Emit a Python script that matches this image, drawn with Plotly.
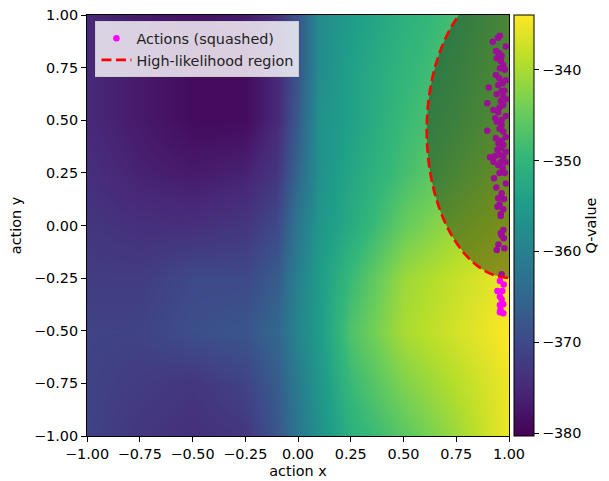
import plotly.graph_objects as go

# Q-value grid
grid_x = [-1.0, -0.75, -0.5, -0.25, -0.1, 0.0, 0.1, 0.25, 0.5, 0.75, 1.0]
grid_y = [-1.0, -0.75, -0.5, -0.25, 0.0, 0.25, 0.5, 0.75, 1.0]
q_values = [
    [-371, -373, -374, -373, -368, -362, -357, -351, -346, -341, -335],  # y=-1
    [-371, -372, -373, -371, -367, -361, -356, -349, -343, -339, -335],  # y=-0.75
    [-371, -371, -369, -368, -365, -359, -355, -347, -340, -337, -334],  # y=-0.5
    [-372, -372, -370, -370, -367, -360, -355, -349, -341, -338, -335],  # y=-0.25
    [-373, -374, -374, -373, -370, -362, -356, -352, -345, -341, -338],  # y=0
    [-374, -376, -377, -376, -373, -365, -357, -353, -348, -344, -340],  # y=0.25
    [-375, -377, -379, -379, -375, -367, -357, -354, -349, -346, -342],  # y=0.5
    [-375, -377, -379, -379, -375, -368, -358, -354, -350, -347, -343],  # y=0.75
    [-375, -377, -378, -377, -374, -368, -358, -355, -351, -348, -344],  # y=1
]

# Squashed actions
action_x = [0.957, 0.948, 0.923, 0.938, 0.954, 0.965, 0.942, 0.961, 0.973, 0.957,
            0.938, 0.954, 0.970, 0.904, 0.949, 0.965, 0.942, 0.973, 0.897, 0.961,
            0.973, 0.926, 0.949, 0.935, 0.965, 0.942, 0.965, 0.897, 0.973, 0.938,
            0.965, 0.973, 0.961, 0.910, 0.934, 0.957, 0.973, 0.926, 0.949, 0.970,
            0.929, 0.965, 0.949, 0.976, 0.945, 0.973, 0.961, 0.961, 0.973, 0.961,
            0.965, 0.942, 0.978, 0.965, 0.957, 0.945, 0.968, 0.957, 0.957, 0.973,
            0.957, 0.973, 0.985, 0.980, 0.985, 0.978, 0.985, 0.955, 0.985, 0.955,
            0.985, 0.950, 0.985, 0.945, 0.985, 0.960, 0.980, 0.955, 0.985, 0.940,
            0.955, 0.975, 0.950, 0.975, 0.965, 0.960]
action_y = [0.902, 0.892, 0.873, 0.829, 0.818, 0.807, 0.794, 0.781, 0.762, 0.747,
            0.715, 0.699, 0.676, 0.655, 0.667, 0.639, 0.623, 0.612, 0.581, 0.591,
            0.572, 0.549, 0.538, 0.509, 0.501, 0.493, 0.477, 0.450, 0.446, 0.414,
            0.403, 0.382, 0.367, 0.324, 0.330, 0.335, 0.324, 0.303, 0.287, 0.272,
            0.224, 0.153, 0.129, 0.126, 0.089, 0.077, 0.055, 0.045, -0.021, -0.037,
            -0.048, -0.116, -0.108, -0.232, -0.264, -0.311, -0.311, -0.338, -0.378, -0.374,
            -0.412, -0.417, 0.85, 0.74, 0.69, 0.64, 0.60, 0.56, 0.52, 0.46,
            0.42, 0.39, 0.35, 0.36, 0.30, 0.30, 0.25, 0.25, 0.20, 0.18,
            0.10, -0.06, -0.09, -0.28, -0.35, -0.40]

# High-likelihood ellipse (center, semi-axes)
ell_center = (1.01, 0.45)
ell_axes = (0.40, 0.70)

z_min, z_max = -380.3, -334.0
FONT = "DejaVu Sans, sans-serif"
FS = 14.4

fig = go.Figure()
fig.add_trace(go.Heatmap(
    x=grid_x, y=grid_y, z=q_values, colorscale="Viridis", zmin=z_min, zmax=z_max,
    zsmooth="best", showscale=True, showlegend=False, hoverinfo="skip",
    colorbar=dict(
        x=1.0118, xanchor="left", xref="paper", y=0.5, yanchor="middle",
        len=1.0, lenmode="fraction", thickness=20, xpad=0, ypad=0,
        outlinecolor="black", outlinewidth=1,
        ticks="outside", ticklen=5, tickcolor="black", tickwidth=1,
        tickvals=[-380, -370, -360, -350, -340],
        tickfont=dict(family=FONT, size=FS, color="black"),
        title=dict(text="Q-value", side="right", font=dict(family=FONT, size=FS, color="black")),
    ),
))
fig.add_trace(go.Scatter(
    x=action_x, y=action_y, mode="markers", name="Actions (squashed)",
    marker=dict(color="#ff00ff", size=6.5, line=dict(width=0)),
))
fig.add_trace(go.Scatter(
    x=[None], y=[None], mode="lines", name="High-likelihood region",
    line=dict(color="red", width=2.6, dash="10px,4.5px"),
))

cx, cy = ell_center
a, b = ell_axes
fig.add_shape(type="circle", xref="x", yref="y",
              x0=cx - a, x1=cx + a, y0=cy - b, y1=cy + b,
              line=dict(color="red", width=2.6, dash="10px,4.5px"),
              fillcolor="rgba(20,30,10,0.42)", layer="above")

axis_common = dict(
    range=[-1, 1], tickvals=[-1, -0.75, -0.5, -0.25, 0, 0.25, 0.5, 0.75, 1],
    tickformat=".2f", ticks="outside", ticklen=5, tickcolor="black", tickwidth=1,
    showline=True, linecolor="black", linewidth=1, mirror=True, showgrid=False,
    zeroline=False, tickfont=dict(family=FONT, size=FS, color="black"),
)
fig.update_xaxes(**axis_common, title=dict(text="action x", font=dict(family=FONT, size=FS, color="black"), standoff=4))
fig.update_yaxes(**axis_common, title=dict(text="action y", font=dict(family=FONT, size=FS, color="black"), standoff=8))

fig.update_layout(
    width=609, height=481, margin=dict(l=87, r=100, t=15, b=45, autoexpand=False),
    paper_bgcolor="white", plot_bgcolor="white",
    font=dict(family=FONT, size=FS, color="black"),
    legend=dict(x=0.02, y=0.985, xanchor="left", yanchor="top",
                bgcolor="rgba(255,255,255,0.8)", bordercolor="#cccccc", borderwidth=1,
                font=dict(family=FONT, size=FS, color="#222222"), itemwidth=30),
)

fig.write_html("out.html")
